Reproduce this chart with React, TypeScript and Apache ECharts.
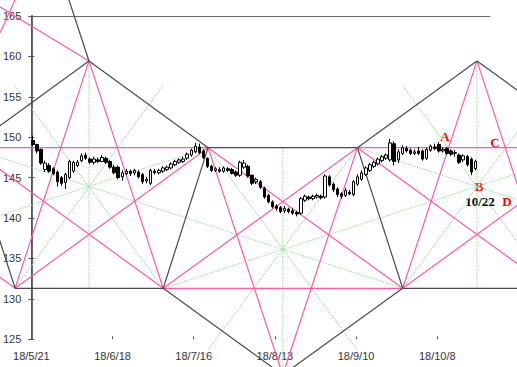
import { useEffect, useRef } from 'react';
import * as echarts from 'echarts';

// x axis: trading-day index (0 = 18/5/21)
const tickValues = [0, 20, 40, 60, 80, 100];
const tickLabels = ['18/5/21', '18/6/18', '18/7/16', '18/8/13', '18/9/10', '18/10/8'];

const opens = [149.6,149.1,148.5,146.0,146.5,146.1,145.7,145.0,144.4,145.0,145.8,146.5,147.1,147.8,147.3,146.9,147.2,147.0,147.4,147.0,146.3,146.3,145.1,145.5,145.8,145.6,145.7,145.4,144.6,144.3,145.8,145.6,145.8,146.0,146.2,146.6,146.9,147.0,147.4,147.8,148.2,148.8,148.3,147.4,146.4,145.9,146.0,145.8,146.1,146.0,145.7,145.3,146.3,146.4,145.3,144.5,144.5,143.7,142.8,142.0,141.5,141.3,140.9,141.1,140.9,140.7,140.6,142.2,142.6,142.4,142.6,142.7,142.6,145.1,144.2,143.6,143.0,142.8,143.2,142.9,144.2,144.8,145.4,145.9,146.4,146.7,147.1,147.4,147.2,149.2,147.2,148.0,148.6,148.4,148.0,148.3,148.3,147.4,148.4,148.8,149.1,148.3,148.6,148.3,148.0,147.8,147.2,147.6,147.3,146.1];
const closes = [149.1,148.3,146.8,146.8,145.8,145.5,144.5,144.3,145.4,147.0,146.9,146.9,147.7,147.4,146.9,147.3,147.0,147.5,146.9,146.3,145.6,145.0,145.6,145.8,145.5,145.9,145.1,144.5,144.8,145.9,145.6,145.9,146.2,146.3,146.7,147.0,147.2,147.3,147.9,148.4,148.9,148.1,147.5,146.4,145.9,146.1,145.8,146.2,145.9,145.5,145.3,146.9,146.8,145.2,144.3,144.8,143.8,142.6,142.0,141.4,141.2,140.8,141.2,140.8,140.6,140.5,142.4,142.7,142.4,142.7,142.8,142.5,145.2,144.1,143.5,142.9,142.7,143.4,143.0,144.5,145.1,145.6,146.2,146.6,146.9,147.3,147.6,147.8,149.3,147.0,148.2,148.7,148.3,148.0,148.2,148.0,147.3,148.5,148.9,148.6,148.3,148.5,148.0,147.9,148.1,146.9,147.7,146.6,145.7,147.0];
const highs = [150.2,149.2,148.6,147.1,146.8,146.3,145.9,145.2,145.6,147.2,147.1,147.2,148.0,148.1,147.5,147.6,147.5,147.8,147.6,147.2,146.6,146.5,145.9,146.1,146.0,146.1,145.9,145.6,145.1,146.1,146.1,146.1,146.4,146.5,146.9,147.2,147.4,147.6,148.1,148.6,149.3,149.2,148.5,147.5,146.6,146.3,146.3,146.4,146.3,146.2,145.9,147.1,147.2,146.6,145.4,145.0,144.7,143.9,143.0,142.2,141.7,141.5,141.5,141.3,141.2,140.9,142.6,142.9,142.8,142.9,143.0,142.9,145.4,145.3,144.4,143.8,143.2,143.7,143.5,144.7,145.4,145.9,146.4,146.8,147.1,147.5,147.8,148.0,149.8,149.5,148.5,149.0,148.9,148.6,148.5,148.8,148.5,148.7,149.1,149.2,149.4,148.8,148.8,148.5,148.4,148.0,147.9,147.8,147.5,147.2];
const lows = [148.9,148.0,146.6,145.7,145.6,145.3,143.9,144.0,143.6,144.8,145.6,146.3,146.9,147.2,146.7,146.6,146.8,146.9,146.7,146.1,145.4,144.8,144.6,145.3,145.2,145.3,144.9,144.2,144.3,144.1,145.4,145.4,145.6,145.8,146.0,146.4,146.7,146.8,147.2,147.6,148.0,147.9,147.3,146.2,145.7,145.7,145.6,145.6,145.7,145.4,145.1,145.1,146.1,145.0,144.1,144.2,143.6,142.4,141.8,141.2,140.9,140.6,140.6,140.6,140.4,140.2,140.4,142.0,142.2,142.2,142.4,142.3,142.4,143.9,143.2,142.6,142.4,142.6,142.8,142.7,144.0,144.6,145.2,145.7,146.2,146.5,146.9,147.2,147.0,146.5,146.8,147.8,148.1,147.8,147.8,147.8,147.1,147.2,148.2,148.4,148.1,148.1,147.8,147.7,147.6,146.7,146.9,146.4,145.3,145.9];

// points of the drawn construction (x: trading-day index, y: price)
const pivotNames = ['Pm3','Pm1','P1','P2','P3','P4','P5','P6','P7','P8','P9','P10','Ptop','TL1','TL2','TL3','B1','B2','B3','Q4','Q6'];
const pivotX = [-50.8,-14.5,-3.4,14.7,32.9,43.9,62.2,80.5,91.6,109.8,128.0,139.2,9.2,-7.1,-3.4,-7.1,14.7,62.2,109.8,-62.3,186.5];
const pivotY = [148.71,148.71,131.31,159.44,131.31,148.71,120.6,148.71,131.31,159.44,131.31,148.71,167.9,166.1,167.0,162.9,131.31,148.71,131.31,131.31,131.31];

const blackSegs = [['Pm1','P1'],['Pm1','P2'],['P2','P4'],['P1','P3'],['P3','P4'],['P4','P6'],['P3','P5'],['P5','P7'],['P6','P7'],['P6','P8'],['P7','P9'],['P8','P10'],['P2','Ptop']];
const pinkSegs = [['TL1','P2'],['TL2','TL3'],['Pm1','P4'],['P1','P2'],['P2','P3'],['P1','P4'],['Pm1','P3'],['P3','P6'],['P4','P7'],['P4','P5'],['P6','P5'],['P3','P7'],['P6','P10'],['P6','P9'],['P7','P10'],['P8','P7'],['P8','P9'],['P1','Pm3']];
const greenSegs = [['P2','B1'],['P5','B2'],['P8','B3'],['Pm1','P7'],['P3','P10'],['P4','Q4'],['P6','Q6']];

// centres of the dotted stars and the corners whose rays pass through them
const starX = [14.7, 62.2, 109.8];
const starY = [143.85, 136.18, 143.85];
const starCorners = [['P1','P3'],['P4','P6'],['P7','P9']];

function pt(name: string): [number, number] {
  const i = pivotNames.indexOf(name);
  return [pivotX[i], pivotY[i]];
}

export default function App() {
  const ref = useRef<HTMLDivElement>(null);
  useEffect(() => {
    if (!ref.current) return;
    const chart = echarts.init(ref.current, null, { renderer: 'svg' });
    const W = 517, H = 367;
    // inner plot box (pixels)
    const GL = 29, GR = 490, GT = 16, GB = 339.3;
    const XMIN = 0, XMAX = 113, YMIN = 125, YMAX = 165;
    const xAt = (px: number) => XMIN + (px - GL) * (XMAX - XMIN) / (GR - GL);
    const yAt = (py: number) => YMAX - (py - GT) * (YMAX - YMIN) / (GB - GT);

    const BLACK = '#4a4a4a';
    const PINK = '#ff5aa8';
    const GREEN = '#9fd89f';
    const series: any[] = [];
    const mk = (a: [number, number], b: [number, number], color: string, type = 'solid', z = 2) => ({
      type: 'line', xAxisIndex: 2, yAxisIndex: 2, data: [a, b], symbol: 'none', clip: true, silent: true, z,
      lineStyle: { color, width: 1.2, type }, animation: false,
    });
    starX.forEach((cx, k) => {
      const c: [number, number] = [cx, starY[k]];
      starCorners[k].forEach((v) => {
        const p = pt(v);
        const far: [number, number] = [2 * c[0] - p[0], 2 * c[1] - p[1]];
        series.push(mk(p, far, GREEN, 'dotted', 1));
      });
    });
    greenSegs.forEach(([a, b]) => series.push(mk(pt(a), pt(b), GREEN, 'dotted', 1)));
    pinkSegs.forEach(([a, b]) => series.push(mk(pt(a), pt(b), PINK)));
    blackSegs.forEach(([a, b]) => series.push(mk(pt(a), pt(b), BLACK)));
    series.push({
      type: 'candlestick', xAxisIndex: 0, yAxisIndex: 0, z: 5, barWidth: 3,
      data: opens.map((o, i) => [i + 0.4, o, closes[i], lows[i], highs[i]]),
      itemStyle: { color: '#ffffff', color0: '#000000', borderColor: '#000000', borderColor0: '#000000', borderWidth: 1 },
    });
    const labelFont = { fontFamily: 'Liberation Sans, Arial, sans-serif', fontSize: 11, color: '#333' };
    const hiddenAxis = { show: false, type: 'value', gridIndex: 1 };
    chart.setOption({
      animation: false,
      grid: [
        { left: GL, right: W - GR, top: GT, bottom: H - GB },
        { left: 0, top: 0, right: 0, bottom: 0 },
      ],
      xAxis: [
        {
          type: 'value', gridIndex: 0, min: XMIN, max: XMAX, interval: 20, position: 'bottom',
          axisLine: { show: false },
          axisTick: { show: true, inside: true, length: 3, lineStyle: { color: '#555' } },
          axisLabel: { ...labelFont, margin: 11, showMaxLabel: false,
            formatter: (v: number) => { const i = tickValues.indexOf(v); return i >= 0 ? tickLabels[i] : ''; } },
          splitLine: { show: false },
        },
        {
          type: 'value', gridIndex: 0, min: XMIN, max: XMAX, position: 'top',
          axisLine: { show: true, lineStyle: { color: '#6a6a6a', width: 1 } },
          axisTick: { show: false }, axisLabel: { show: false }, splitLine: { show: false },
        },
        { ...hiddenAxis, min: xAt(0), max: xAt(W) },
      ],
      yAxis: [
        {
          type: 'value', gridIndex: 0, min: YMIN, max: YMAX, interval: 5, position: 'left',
          axisLine: { show: true, lineStyle: { color: '#6a6a6a', width: 2 } },
          axisTick: { show: true, inside: true, length: 3, lineStyle: { color: '#555' } },
          axisLabel: { ...labelFont, margin: 10 },
          splitLine: { show: false },
        },
        {
          type: 'value', gridIndex: 0, min: YMIN, max: YMAX, interval: 5, position: 'right',
          axisLine: { show: true, lineStyle: { color: '#555', width: 1 } },
          axisTick: { show: true, inside: true, length: 3, lineStyle: { color: '#555' } },
          axisLabel: { show: false }, splitLine: { show: false },
        },
        { ...hiddenAxis, min: yAt(H), max: yAt(0) },
      ],
      series,
      graphic: [
        { type: 'text', x: 445, y: 136, style: { text: 'A', fill: '#ff0000', font: 'bold 13px "Liberation Serif", serif', align: 'center', verticalAlign: 'middle' } },
        { type: 'text', x: 495, y: 142, style: { text: 'C', fill: '#ff0000', font: 'bold 13px "Liberation Serif", serif', align: 'center', verticalAlign: 'middle' } },
        { type: 'text', x: 479, y: 186, style: { text: 'B', fill: '#ff0000', font: 'bold 13px "Liberation Serif", serif', align: 'center', verticalAlign: 'middle' } },
        { type: 'text', x: 480, y: 201, style: { text: '10/22', fill: '#000000', font: 'bold 13px "Liberation Serif", serif', align: 'center', verticalAlign: 'middle' } },
        { type: 'text', x: 507, y: 201, style: { text: 'D', fill: '#ff0000', font: 'bold 13px "Liberation Serif", serif', align: 'center', verticalAlign: 'middle' } },
      ],
    });
    return () => chart.dispose();
  }, []);
  return <div ref={ref} style={{ width: 517, height: 367, position: 'absolute', left: 0, top: 0 }} />;
}
